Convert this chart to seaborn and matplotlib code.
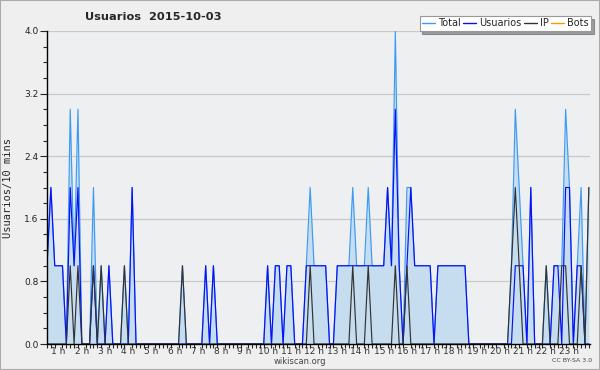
import matplotlib
matplotlib.use("Agg")
import matplotlib.pyplot as plt
from matplotlib.ticker import FixedLocator, MultipleLocator
import numpy as np
import pandas as pd
import seaborn as sns

# Valores por intervalo de 10 minutos (índice 0 = 00:00)
usuarios = [
    1, 2, 1, 1, 1, 0, 2, 1, 2, 0, 0, 0, 1, 0, 0, 0, 1, 0, 0, 0,
    0, 0, 2, 0, 0, 0, 0, 0, 0, 0, 0, 0, 0, 0, 0, 0, 0, 0, 0, 0,
    0, 1, 0, 1, 0, 0, 0, 0, 0, 0, 0, 0, 0, 0, 0, 0, 0, 1, 0, 1,
    1, 0, 1, 1, 0, 0, 0, 1, 1, 1, 1, 1, 1, 0, 0, 1, 1, 1, 1, 1,
    1, 1, 1, 1, 1, 1, 1, 1, 2, 1, 3, 1, 0, 1, 2, 1, 1, 1, 1, 1,
    0, 1, 1, 1, 1, 1, 1, 1, 1, 0, 0, 0, 0, 0, 0, 0, 0, 0, 0, 0,
    0, 1, 1, 1, 0, 2, 0, 0, 0, 0, 0, 1, 1, 0, 2, 2, 0, 1, 1, 0,
    0,
]
ip = [
    0, 0, 0, 0, 0, 0, 1, 0, 1, 0, 0, 0, 1, 0, 1, 0, 0, 0, 0, 0,
    1, 0, 0, 0, 0, 0, 0, 0, 0, 0, 0, 0, 0, 0, 0, 1, 0, 0, 0, 0,
    0, 0, 0, 0, 0, 0, 0, 0, 0, 0, 0, 0, 0, 0, 0, 0, 0, 0, 0, 0,
    0, 0, 0, 0, 0, 0, 0, 0, 1, 0, 0, 0, 0, 0, 0, 0, 0, 0, 0, 1,
    0, 0, 0, 1, 0, 0, 0, 0, 0, 0, 1, 0, 0, 1, 0, 0, 0, 0, 0, 0,
    0, 0, 0, 0, 0, 0, 0, 0, 0, 0, 0, 0, 0, 0, 0, 0, 0, 0, 0, 0,
    1, 2, 1, 0, 0, 0, 0, 0, 0, 1, 0, 0, 0, 1, 1, 0, 0, 0, 1, 0,
    2,
]
bots = [0] * len(usuarios)
total = [u + i + b for u, i, b in zip(usuarios, ip, bots)]

hour_labels = [f"{h} h" for h in range(1, 24)]
y_ticks = [0.0, 0.8, 1.6, 2.4, 3.2, 4.0]

df = pd.DataFrame({
    "idx": np.arange(len(usuarios)),
    "Total": total,
    "Usuarios": usuarios,
    "IP": ip,
    "Bots": bots,
})

sns.set_style("white")
plt.rcParams["font.family"] = ["DejaVu Sans"]

fig = plt.figure(figsize=(6, 3.7), dpi=100, facecolor="#efefef")
ax = fig.add_axes([47 / 600, 1 - 344 / 370, 543 / 600, 313 / 370])
ax.set_facecolor("#eeeff0")

colors = {"Total": "#3d9bf5", "Usuarios": "#0a10f5", "IP": "#333333", "Bots": "#ff9900"}

ax.fill_between(df["idx"], df["Total"], 0, color="#c6ddf0", zorder=1, linewidth=0)
for name in ["Bots", "Total", "Usuarios", "IP"]:
    sns.lineplot(data=df, x="idx", y=name, ax=ax, color=colors[name],
                 linewidth=0.85, label=name, zorder=2 if name != "Bots" else 0.5,
                 legend=False)

ax.set_xlim(0, 140.3)
ax.set_ylim(0, 4.0)

ax.yaxis.set_major_locator(FixedLocator(y_ticks))
ax.yaxis.set_minor_locator(MultipleLocator(0.2))
ax.set_yticklabels([f"{v:.1f}" for v in y_ticks], fontsize=6.5, color="#222222")
ax.grid(axis="y", color="#c8c8c8", linewidth=0.9)
ax.set_axisbelow(True)

ax.xaxis.set_major_locator(FixedLocator([6 * h - 3 for h in range(1, 24)]))
ax.xaxis.set_minor_locator(MultipleLocator(1))
ax.set_xticklabels(hour_labels, fontsize=6.5, color="#333333")
ax.tick_params(axis="x", which="major", length=0, pad=2)
ax.tick_params(axis="x", which="minor", length=3, width=0.8, direction="out", bottom=True)
ax.tick_params(axis="y", which="major", length=5, width=0.8, pad=1, left=True)
ax.tick_params(axis="y", which="minor", length=3, width=0.8, left=True)

for side in ["top", "right"]:
    ax.spines[side].set_visible(False)
for side in ["left", "bottom"]:
    ax.spines[side].set_color("black")
    ax.spines[side].set_linewidth(1.0)

ax.set_xlabel("")
ax.set_ylabel("Usuarios/10 mins", family="DejaVu Sans Mono", fontsize=7.5, labelpad=8)

fig.text(85 / 600, 1 - 17 / 370, "Usuarios  2015-10-03", fontsize=8.2,
         fontweight="bold", va="center", ha="left")
fig.text(300 / 600, 1 - 361 / 370, "wikiscan.org", fontsize=6, color="#444444",
         ha="center", va="center")
fig.text(592 / 600, 1 - 361 / 370, "CC BY-SA 3.0", fontsize=4.5, color="#444444",
         ha="right", va="center")

handles = [plt.Line2D([], [], color=colors[n], linewidth=1.0)
           for n in ["Total", "Usuarios", "IP", "Bots"]]
leg = fig.legend(handles, ["Total", "Usuarios", "IP", "Bots"], ncol=4,
                 loc="upper right", bbox_to_anchor=(591 / 600, 1 - 16 / 370),
                 fontsize=7, frameon=True, fancybox=False, shadow=True,
                 handlelength=1.3, handletextpad=0.3, columnspacing=0.3,
                 borderpad=0.25, borderaxespad=0)
leg.get_frame().set_edgecolor("#999999")
leg.get_frame().set_linewidth(0.8)

fig.patches.append(plt.Rectangle((0, 0), 1, 1, transform=fig.transFigure,
                                 fill=False, edgecolor="#aaaaaa", linewidth=1.5))

fig.savefig("out.png", dpi=100, facecolor=fig.get_facecolor())
